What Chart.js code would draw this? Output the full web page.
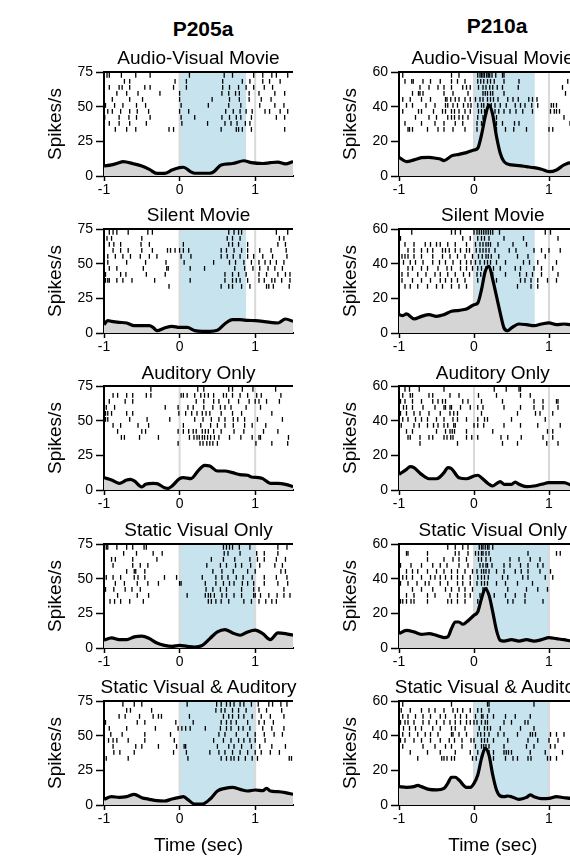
<!DOCTYPE html>
<html><head><meta charset="utf-8">
<script src="https://cdn.jsdelivr.net/npm/chart.js@4/dist/chart.umd.min.js"></script>
<style>
html,body{margin:0;padding:0;width:570px;height:858px;overflow:hidden;background:#fff;}
body{position:relative;font-family:"Liberation Sans",Arial,Helvetica,sans-serif;color:#000;}
canvas{position:absolute;}
.ttl{position:absolute;font-size:19px;line-height:19px;white-space:nowrap;transform:translateX(-50%);}
.hdr{position:absolute;font-size:21px;line-height:21px;font-weight:bold;white-space:nowrap;transform:translateX(-50%);}
</style></head><body>
<script>
// ---------- labels ----------
const units = ['P205a', 'P210a'];
const conditions = ['Audio-Visual Movie', 'Silent Movie', 'Auditory Only', 'Static Visual Only', 'Static Visual & Auditory'];
const xTickValues = [-1, 0, 1];
const yTicksP205 = [0, 25, 50, 75];
const yTicksP210 = [0, 20, 40, 60];
const markerTimes = [0, 1];
const stimEndP205 = [0.88, 0.88, null, 1.0, 1.0];
const stimEndP210 = [0.81, 0.81, null, 1.0, 1.0];

// ---------- P205a PSTH ----------
const timeP205Av = [-1,-0.9,-0.8,-0.75,-0.6,-0.5,-0.4,-0.3,-0.2,-0.1,0,0.05,0.15,0.2,0.3,0.4,0.45,0.55,0.7,0.85,0.95,1.1,1.2,1.3,1.4,1.5];
const rateP205Av = [7.2,8,9.6,10.4,8.7,7.2,4.8,1.9,1.9,4.3,6,6.3,3,2,2,2,3,8,9,11,9.6,9,9.6,10,8.7,10.4];
const timeP205Sm = [-1,-0.95,-0.9,-0.8,-0.7,-0.6,-0.5,-0.4,-0.35,-0.3,-0.2,-0.1,0,0.1,0.2,0.3,0.4,0.5,0.6,0.7,0.8,0.9,1.0,1.1,1.2,1.3,1.4,1.5];
const rateP205Sm = [6,8.9,8.4,7.7,7.2,5.3,5.3,5.3,4,1.7,3.6,4.8,4,4,1.7,1.2,1.2,1.9,6.7,9.6,9.6,9.1,8.9,8.4,7.7,7.2,10.1,8.4];
const timeP205Au = [-1,-0.9,-0.8,-0.7,-0.65,-0.6,-0.5,-0.45,-0.35,-0.3,-0.2,-0.15,-0.1,0,0.05,0.15,0.25,0.33,0.4,0.5,0.6,0.7,0.8,0.9,0.95,1.05,1.1,1.2,1.3,1.4,1.5];
const rateP205Au = [8.9,7.2,4.8,7.2,7.7,6.5,2.2,4.1,4.8,4.6,1.7,1.2,2.9,8.2,8.9,8.2,14.2,17.8,17.3,13.7,13.7,12.5,11.1,10.6,9.4,8.9,8.2,4.8,4.8,4.1,2.4];
const timeP205Sv = [-1,-0.9,-0.8,-0.7,-0.6,-0.5,-0.4,-0.3,-0.2,-0.1,0,0.1,0.2,0.3,0.4,0.5,0.6,0.7,0.8,0.9,1.0,1.1,1.2,1.3,1.4,1.5];
const rateP205Sv = [5.6,7.3,6.1,6.1,8,8.5,6.8,3.6,1.9,1.2,1.9,1.2,0.7,1.9,6.8,11.6,13.3,10.9,9.2,11.6,12.9,10.4,6.1,10.9,10.4,9.2];
const timeP205Sva = [-1,-0.9,-0.8,-0.7,-0.6,-0.5,-0.4,-0.3,-0.2,-0.1,0,0.05,0.1,0.2,0.3,0.4,0.5,0.6,0.7,0.8,0.9,1.0,1.1,1.15,1.2,1.3,1.4,1.5];
const rateP205Sva = [4.1,6,5.5,6,7.7,5.3,4.1,3.1,2.9,4.3,5.5,6,4.3,0.7,0.7,4.1,10.1,12,12.7,11.3,10.1,10.8,10.3,12,10.1,9.6,8.9,7.7];

// ---------- P210a PSTH ----------
const timeP210Av = [-1,-0.9,-0.8,-0.7,-0.6,-0.5,-0.45,-0.4,-0.3,-0.2,-0.1,0,0.05,0.1,0.15,0.2,0.25,0.3,0.35,0.4,0.5,0.6,0.7,0.8,0.9,1.0,1.1,1.2,1.3,1.4,1.5];
const rateP210Av = [10.8,8.3,9.3,10.6,10.8,10.2,9.8,8.9,11.6,12.5,13.5,15,16,23.7,34.4,41.1,35.3,22.8,13.1,8.3,6.4,6,5.4,4.8,3.9,2.5,3.5,6.4,7.7,7.3,7.7];
const timeP210Sm = [-1,-0.95,-0.9,-0.8,-0.7,-0.6,-0.5,-0.4,-0.3,-0.2,-0.1,0,0.05,0.1,0.15,0.2,0.25,0.3,0.35,0.4,0.45,0.5,0.6,0.7,0.8,0.9,1.0,1.1,1.2,1.3,1.5];
const rateP210Sm = [10.6,10,11,8.1,9.6,10.6,9.6,10.6,12.5,13.1,13.8,16.3,17.3,25,35.6,38.5,30.8,21.2,11.5,2.9,1.3,2.9,5.2,4.8,4.2,5.2,5.8,4.8,5.2,4.8,4.8];
const timeP210Au = [-1,-0.9,-0.85,-0.8,-0.7,-0.6,-0.5,-0.4,-0.35,-0.3,-0.2,-0.1,0,0.05,0.1,0.2,0.25,0.3,0.35,0.4,0.5,0.55,0.6,0.7,0.8,0.9,1.0,1.1,1.2,1.3,1.4,1.5];
const rateP210Au = [9,11.9,13.5,12.9,9,6.5,6.5,10,12.9,12.3,7.1,6.5,8.1,8.5,7.1,3.3,2.3,3.7,4.8,3.3,3.3,4.6,3.3,1.9,2.3,3.3,4.2,4.2,4.2,2.7,1.7,1.3];
const timeP210Sv = [-1,-0.9,-0.8,-0.7,-0.6,-0.5,-0.4,-0.35,-0.3,-0.25,-0.2,-0.15,-0.1,0,0.05,0.1,0.15,0.2,0.25,0.3,0.35,0.4,0.5,0.6,0.7,0.8,0.9,1.0,1.1,1.2,1.3,1.4,1.5];
const rateP210Sv = [8.3,10.2,9.3,7.9,8.3,7.3,6,6.4,11.2,15,15,13.7,15,18.9,20.8,28.5,34.3,30.5,20.8,10.2,4.4,4,4.8,4,4.8,4,4.8,6,5.4,4.8,4,4.4,4.8];
const timeP210Sva = [-1,-0.9,-0.8,-0.75,-0.7,-0.6,-0.5,-0.4,-0.35,-0.3,-0.25,-0.2,-0.1,-0.05,0,0.05,0.1,0.15,0.2,0.25,0.3,0.35,0.4,0.45,0.5,0.6,0.7,0.75,0.8,0.9,1.0,1.1,1.2,1.3,1.5];
const rateP210Sva = [10.6,10.2,10.6,11.3,10.6,9,8.7,9.6,12.5,16,16,14.4,10.2,10.2,12.5,17.3,26.9,32.7,28.8,17.3,8.7,5.2,4.8,5.2,4.8,3.3,4.4,5.8,4.8,3.7,3.8,4.8,4.2,3.8,3.8];

// ---------- rasters: spike times (s), one list per trial, top trial first ----------
const rasterP205Av = [
 [-0.96,-0.93,-0.77,-0.58,-0.39,0.13,0.59,0.70,0.98,1.10,1.22,1.28,1.43],
 [-0.73,-0.66,-0.06,0.09,0.57,0.83,0.93,1.10,1.19,1.33],
 [-0.93,-0.80,-0.76,-0.66,-0.46,-0.39,-0.08,0.09,0.57,0.66,0.78,0.88,0.98,1.12,1.23],
 [-0.83,-0.70,-0.55,-0.26,0.0,0.56,0.65,0.74,0.79,0.92,1.05,1.26,1.39],
 [-0.89,-0.66,-0.49,0.0,0.43,0.66,0.79,0.92,1.08,1.21],
 [-0.98,-0.86,-0.75,-0.57,-0.45,0.02,0.38,0.65,0.81,1.06,1.26,1.38],
 [-0.95,-0.89,-0.78,-0.66,-0.56,-0.41,0.0,0.12,0.61,0.71,0.80,0.88,0.96,1.13,1.19,1.33,1.43],
 [-0.99,-0.80,-0.67,-0.57,-0.39,0.02,0.20,0.56,0.66,0.75,0.81,0.95,1.28,1.39],
 [-0.93,-0.80,-0.66,-0.44,0.03,0.37,0.60,0.68,0.76,0.87,0.93],
 [-0.85,-0.70,-0.58,-0.14,-0.08,0.55,0.75,0.78,0.83,0.95,1.39]
];
const rasterP205Sm = [
 [-0.93,-0.88,-0.83,-0.68,-0.42,-0.36,0.65,0.72,0.78,0.82,1.28,1.43],
 [-0.96,-0.90,-0.50,0.63,0.70,0.80,1.32,1.38],
 [-0.93,-0.87,-0.78,-0.51,-0.40,0.05,0.65,0.70,0.78,0.90,1.30,1.40],
 [-0.88,-0.78,-0.68,-0.50,-0.36,-0.16,-0.12,-0.06,0.00,0.05,0.12,0.55,0.62,0.72,0.82,0.90,1.06,1.21,1.41],
 [-0.95,-0.85,-0.75,-0.65,-0.52,-0.40,-0.30,0.02,0.15,0.55,0.63,0.71,0.80,0.90,0.98,1.10,1.23,1.42],
 [-0.95,-0.70,-0.45,-0.18,0.06,0.45,0.66,0.74,0.85,0.95,1.05,1.13,1.20,1.28,1.38],
 [-0.93,-0.83,-0.48,-0.17,-0.15,0.14,0.33,0.73,0.86,0.97,1.06,1.17,1.26,1.36],
 [-0.98,-0.78,-0.71,-0.44,-0.19,0.60,0.70,0.78,0.88,1.05,1.15,1.30,1.40,1.46],
 [-0.98,-0.95,-0.93,-0.83,-0.75,-0.63,-0.33,0.14,0.60,0.70,0.75,0.80,0.90,1.05,1.12,1.22,1.26,1.35,1.46],
 [-0.14,0.55,0.65,0.70,0.82,0.93,1.15,1.18,1.24,1.45]
];
const rasterP205Au = [
 [-0.38,0.24,0.32,0.65,0.70,0.83,0.97,1.27],
 [-0.88,-0.82,-0.70,-0.62,-0.44,-0.38,0.02,0.05,0.10,0.20,0.28,0.33,0.38,0.45,0.58,0.62,0.70,0.80,0.90,1.02,1.08,1.34],
 [-0.93,-0.72,-0.62,0.22,0.32,0.45,0.52,0.65,0.78,0.92,1.00,1.05,1.15,1.32],
 [-0.97,-0.86,-0.19,-0.02,0.11,0.18,0.32,0.44,0.54,0.60,0.68,0.88,1.07],
 [-0.98,-0.95,-0.90,-0.70,-0.62,-0.01,0.08,0.16,0.23,0.30,0.35,0.40,0.55,0.70,0.82,1.22],
 [-0.98,-0.95,-0.66,-0.43,-0.13,0.20,0.31,0.42,0.52,0.60,0.71,0.77,0.86,1.03,1.36],
 [-0.88,-0.78,-0.55,-0.41,0.05,0.28,0.41,0.50,0.60,0.71,0.86,0.96,1.14],
 [-0.82,-0.50,-0.45,-0.02,0.05,0.12,0.18,0.22,0.30,0.34,0.38,0.45,0.55,0.72,0.85,1.11,1.30],
 [-0.77,-0.73,-0.53,-0.28,0.13,0.19,0.23,0.26,0.30,0.33,0.37,0.41,0.46,0.52,0.66,0.81,0.96,1.05,1.07,1.44],
 [-0.02,0.27,0.31,0.36,0.40,0.44,0.50,1.01,1.22,1.43]
];
const rasterP205Sv = [
 [-0.97,-0.95,-0.83,-0.70,-0.62,-0.47,-0.44,0.58,0.62,0.66,0.70,0.79,0.93,1.30,1.42],
 [-0.74,-0.57,-0.35,-0.23,0.59,0.64,0.80,1.02,1.12,1.30],
 [-0.90,-0.85,-0.62,-0.30,0.42,0.58,0.73,0.93,1.03,1.12,1.28,1.40],
 [-0.88,-0.62,-0.52,-0.42,0.36,0.54,0.62,0.74,0.82,0.94,1.06,1.26,1.36],
 [-0.70,-0.60,-0.58,-0.46,0.44,0.56,0.71,0.90,1.00,1.34,1.40],
 [-0.97,-0.88,-0.78,-0.60,-0.55,-0.46,-0.20,-0.04,0.30,0.48,0.56,0.64,0.75,0.84,0.96,1.12,1.28,1.42],
 [-0.85,-0.73,-0.56,-0.42,-0.28,0.00,0.02,0.34,0.48,0.58,0.66,0.72,0.83,0.90,0.98,1.12,1.30,1.43],
 [-0.98,-0.87,-0.72,-0.63,-0.52,0.35,0.44,0.54,0.62,0.82,0.98,1.05,1.38],
 [-0.82,-0.56,-0.41,0.10,0.34,0.38,0.41,0.46,0.56,0.62,0.72,0.82,0.98,1.00,1.07,1.18,1.29,1.38,1.46],
 [-0.92,-0.86,-0.78,-0.66,-0.48,0.38,0.42,0.48,0.55,0.65,0.85,0.95,1.05,1.14,1.22,1.28]
];
const rasterP205Sva = [
 [-0.75,-0.60,-0.50,0.10,0.49,0.55,0.62,0.67,0.72,0.80,0.85,0.95,1.04,1.18,1.23,1.34,1.42],
 [-0.70,-0.65,-0.37,0.48,0.55,0.60,0.70,0.78,0.88,1.05,1.15,1.35],
 [-0.80,-0.72,-0.53,-0.35,-0.28,-0.24,0.13,0.58,0.65,0.70,0.78,0.85,0.96,1.08,1.20,1.38],
 [-0.98,-0.56,-0.46,-0.05,0.18,0.55,0.62,0.68,0.75,0.90,1.05,1.12,1.24],
 [-0.93,-0.70,-0.32,-0.02,0.03,0.08,0.14,0.34,0.54,0.62,0.68,0.78,0.84,0.93,1.10,1.22,1.38],
 [-0.91,-0.76,-0.46,-0.12,0.52,0.60,0.75,0.90,1.00,1.12,1.25,1.36],
 [-0.94,-0.88,-0.83,-0.68,-0.46,-0.07,0.45,0.58,0.68,0.78,0.85,0.93,1.00,1.13],
 [-0.88,-0.58,-0.50,-0.28,-0.04,0.06,0.08,0.50,0.65,0.72,0.82,0.95,1.06,1.22,1.40],
 [-0.87,-0.79,-0.60,-0.08,0.09,0.40,0.52,0.60,0.70,0.80,0.90,1.00,1.08,1.20,1.32],
 [-0.97,-0.68,0.11,0.55,0.62,0.68,0.72,0.78,0.87,0.96,1.03,1.45,1.48]
];
const rasterP210Av = [
 [-0.95,-0.30,-0.20,0.05,0.08,0.10,0.12,0.14,0.17,0.19,0.21,0.24,0.29,0.38,0.40],
 [-0.92,-0.83,-0.81,-0.68,-0.58,-0.45,-0.30,-0.22,-0.12,0.05,0.09,0.13,0.18,0.22,0.27,0.40,0.60,1.25],
 [-0.72,-0.60,-0.48,-0.40,-0.30,-0.15,-0.10,-0.05,0.06,0.12,0.16,0.21,0.25,0.31,0.38,0.59,1.18,1.35],
 [-0.82,-0.74,-0.72,-0.68,-0.40,-0.28,-0.08,0.12,0.15,0.18,0.22,0.25,0.40,1.22],
 [-0.95,-0.85,-0.70,-0.58,-0.38,-0.36,-0.31,-0.25,-0.20,-0.12,-0.05,0.02,0.08,0.12,0.18,0.22,0.26,0.32,0.45,0.52,0.59,0.73,0.78,0.84,1.30],
 [-0.90,-0.82,-0.64,-0.52,-0.38,-0.35,-0.28,-0.22,-0.14,-0.08,-0.04,0.05,0.10,0.13,0.18,0.23,0.28,0.35,0.43,0.55,0.62,0.68,0.77,0.85,1.03,1.06,1.10],
 [-0.95,-0.74,-0.70,-0.54,-0.42,-0.38,-0.30,-0.26,-0.20,-0.12,-0.05,0.06,0.10,0.14,0.18,0.21,0.28,0.33,0.40,0.48,0.56,0.65,0.78,1.02,1.07,1.10,1.14],
 [-0.78,-0.60,-0.50,-0.35,-0.30,-0.26,-0.20,-0.15,-0.08,0.05,0.12,0.20,0.24,0.30,1.20],
 [-0.92,-0.70,-0.52,-0.40,-0.25,-0.15,0.04,0.10,0.15,0.20,0.25,0.30,0.38,0.54,0.60,1.28],
 [-0.88,-0.86,-0.82,-0.62,-0.48,-0.40,-0.28,-0.12,0.04,0.12,0.16,0.20,0.25,0.30,0.42,0.53,0.70,1.00,1.05]
];
const rasterP210Sm = [
 [-0.83,-0.30,-0.25,-0.18,0.00,0.04,0.07,0.10,0.13,0.16,0.19,0.22,0.25,0.34,0.95,1.02],
 [-0.98,-0.15,-0.05,0.05,0.10,0.14,0.20,0.40,0.66,1.12],
 [-0.92,-0.80,-0.65,-0.58,-0.50,-0.45,-0.35,-0.25,-0.10,0.02,0.08,0.12,0.16,0.19,0.22,0.32,0.52,0.70],
 [-0.88,-0.80,-0.70,-0.62,-0.55,-0.42,-0.38,-0.33,-0.25,-0.18,-0.10,-0.06,0.03,0.08,0.12,0.16,0.20,0.28,0.47,0.56,0.80,0.90,1.00,1.15],
 [-0.96,-0.92,-0.88,-0.80,-0.70,-0.55,-0.42,-0.32,-0.22,-0.12,-0.02,0.06,0.11,0.16,0.19,0.23,0.33,0.58,0.72,0.95],
 [-0.94,-0.85,-0.78,-0.68,-0.55,-0.46,-0.38,-0.28,-0.18,-0.10,-0.04,0.02,0.08,0.14,0.18,0.22,0.30,0.42,0.66,0.74,0.85,1.10],
 [-0.88,-0.82,-0.70,-0.62,-0.48,-0.36,-0.30,-0.18,-0.10,-0.02,0.05,0.10,0.16,0.21,0.26,0.35,0.55,0.62,0.80,0.90,1.05],
 [-0.96,-0.88,-0.75,-0.64,-0.52,-0.45,-0.35,-0.25,-0.14,-0.06,0.04,0.09,0.14,0.19,0.25,0.42,0.61,0.70,0.78,0.90,1.12],
 [-0.96,-0.82,-0.70,-0.58,-0.45,-0.38,-0.30,-0.22,-0.12,0.05,0.15,0.20,0.25,0.30,0.62,0.68,0.76,0.85,0.98,1.10],
 [-0.92,-0.85,-0.75,-0.62,-0.50,-0.42,-0.30,-0.20,-0.10,0.12,0.20,0.22,0.58,0.76,0.85]
];
const rasterP210Au = [
 [-0.92,-0.86,-0.73,-0.40,0.27,0.43,0.60,0.62],
 [-0.95,-0.85,-0.82,-0.60,-0.55,-0.32,-0.20,0.06,0.30,0.62,0.75],
 [-0.98,-0.92,-0.82,-0.70,-0.55,-0.48,-0.42,-0.38,-0.15,-0.08,0.10,0.38,0.80,0.92,1.10,1.12],
 [-0.94,-0.90,-0.82,-0.68,-0.52,-0.40,-0.38,-0.32,-0.30,-0.18,-0.05,0.05,0.12,0.40,0.62,0.80,0.92,1.12],
 [-0.98,-0.90,-0.80,-0.72,-0.60,-0.45,-0.32,-0.27,-0.22,0.10,0.58,0.82,0.88,1.05],
 [-0.95,-0.88,-0.78,-0.70,-0.62,-0.50,-0.40,-0.28,-0.22,-0.10,0.05,0.14,0.18,0.50,0.95],
 [-0.97,-0.80,-0.73,-0.62,-0.54,-0.48,-0.40,-0.35,-0.27,-0.25,0.00,0.05,0.13,0.40,0.62,0.85,1.15],
 [-0.90,-0.82,-0.50,-0.38,-0.32,-0.29,-0.26,-0.10,0.25,0.98,1.05],
 [-0.88,-0.85,-0.72,-0.60,-0.55,-0.40,-0.36,-0.31,-0.28,-0.10,-0.03,0.05,0.36,0.45,0.63,0.92,1.05],
 [-0.72,-0.22,0.38,0.58,0.97,1.12]
];
const rasterP210Sv = [
 [-0.35,-0.25,-0.15,-0.08,0.07,0.10,0.12,0.15,0.18,0.20,0.25],
 [-0.90,-0.88,-0.62,-0.25,-0.20,-0.08,0.02,0.06,0.10,0.12,0.16,0.20,0.72,1.10,1.15],
 [-0.62,-0.40,-0.28,-0.20,-0.10,0.06,0.10,0.16,0.22,0.48,0.60,0.75,0.88],
 [-0.98,-0.84,-0.70,-0.55,-0.45,-0.36,-0.20,-0.08,0.08,0.12,0.16,0.18,0.24,0.40,0.48,0.62,0.72,0.85,0.92],
 [-0.90,-0.82,-0.75,-0.62,-0.50,-0.40,-0.30,-0.22,-0.12,-0.02,0.04,0.10,0.13,0.16,0.20,0.30,0.40,0.55,0.63,0.72,0.88,1.02],
 [-0.95,-0.90,-0.82,-0.70,-0.58,-0.52,-0.45,-0.38,-0.30,-0.22,-0.15,-0.05,0.05,0.10,0.14,0.19,0.38,0.45,0.65,0.72,0.95,1.05],
 [-0.98,-0.88,-0.76,-0.65,-0.60,-0.45,-0.35,-0.22,-0.15,-0.05,0.04,0.10,0.14,0.18,0.30,0.42,0.58,0.78],
 [-0.82,-0.70,-0.55,-0.38,-0.30,-0.20,-0.12,-0.02,0.12,0.17,0.45,0.70,0.85,0.98],
 [-0.90,-0.80,-0.62,-0.52,-0.32,-0.22,-0.12,-0.05,0.08,0.20,0.27,0.42,0.55,0.68],
 [-0.98,-0.95,-0.90,-0.84,-0.80,-0.62,-0.35,-0.30,-0.22,-0.12,0.05,0.12,0.18,0.45,0.52,0.68,0.92]
];
const rasterP210Sva = [
 [-0.95,-0.30,0.18,0.20,0.80],
 [-0.97,-0.85,-0.70,-0.60,-0.52,-0.40,-0.28,-0.22,-0.15,-0.05,0.05,0.10,0.20],
 [-0.95,-0.88,-0.78,-0.68,-0.58,-0.45,-0.38,-0.25,-0.18,-0.10,0.02,0.10,0.12,0.18,0.26,0.42,0.55,0.75],
 [-0.98,-0.92,-0.88,-0.80,-0.68,-0.60,-0.50,-0.40,-0.32,-0.25,-0.18,-0.10,-0.05,0.00,0.04,0.10,0.15,0.18,0.40,0.50,0.68,0.72],
 [-0.94,-0.86,-0.78,-0.70,-0.55,-0.45,-0.30,-0.25,-0.12,0.07,0.14,0.18,0.22,0.35,0.62,0.80],
 [-0.95,-0.86,-0.75,-0.65,-0.58,-0.48,-0.30,-0.28,-0.20,-0.10,0.05,0.09,0.14,0.20,0.32,0.40,0.58,0.75,0.78,0.82,1.02,1.10,1.20],
 [-0.98,-0.92,-0.80,-0.70,-0.58,-0.45,-0.33,-0.26,-0.16,-0.04,0.00,0.10,0.14,0.18,0.26,0.45,0.72,0.85,1.00,1.12],
 [-0.95,-0.68,-0.52,-0.38,-0.30,-0.16,0.02,0.10,0.13,0.16,0.20,0.40,0.70,0.80,1.02,1.08],
 [-0.85,-0.62,-0.45,-0.25,-0.05,0.05,0.12,0.20,0.26,0.40,0.43,0.46,0.50,0.75,0.95,1.18],
 [-0.75,-0.43,-0.40,-0.36,-0.30,-0.26,-0.02,0.03,0.10,0.14,0.20,0.26,0.42,0.52,0.58,0.72,0.76,0.98,1.02,1.10]
];

// ---------- assemble ----------
const columns = [
  { unit: units[0], yMax: 75, yTicks: yTicksP205, stimEnd: stimEndP205,
    panels: [[timeP205Av, rateP205Av, rasterP205Av], [timeP205Sm, rateP205Sm, rasterP205Sm],
             [timeP205Au, rateP205Au, rasterP205Au], [timeP205Sv, rateP205Sv, rasterP205Sv],
             [timeP205Sva, rateP205Sva, rasterP205Sva]] },
  { unit: units[1], yMax: 60, yTicks: yTicksP210, stimEnd: stimEndP210,
    panels: [[timeP210Av, rateP210Av, rasterP210Av], [timeP210Sm, rateP210Sm, rasterP210Sm],
             [timeP210Au, rateP210Au, rasterP210Au], [timeP210Sv, rateP210Sv, rasterP210Sv],
             [timeP210Sva, rateP210Sva, rasterP210Sva]] }
];

// layout (pixels)
const FONT = '"Liberation Sans", Arial, Helvetica, sans-serif';
const colGeom = [
  { canvasLeft: 40, plotLeft: 104, padRight: 7, hdrX: 203, hdrY: 18 },
  { canvasLeft: 335, plotLeft: 399, padRight: 8.5, hdrX: 497, hdrY: 14.5 }
];
const CANVAS_W = 260, TOP_PAD = 30, PLOT_H = 104;
const BLUE = '#c7e3ee', MARK = '#d9d9d9';

const stimPlugin = {
  id: 'stim',
  beforeDatasetsDraw(chart, args, opts) {
    const { ctx, chartArea: a, scales: { x } } = chart;
    ctx.save();
    if (opts.end != null) {
      const x0 = x.getPixelForValue(0), x1 = x.getPixelForValue(opts.end);
      ctx.fillStyle = BLUE;
      ctx.fillRect(x0, a.top, x1 - x0, a.bottom - a.top);
    }
    ctx.strokeStyle = MARK; ctx.lineWidth = 2;
    markerTimes.forEach(v => {
      const px = x.getPixelForValue(v);
      ctx.beginPath(); ctx.moveTo(px, a.top); ctx.lineTo(px, a.bottom); ctx.stroke();
    });
    ctx.restore();
  },
  afterDraw(chart) {
    const { ctx, chartArea: a } = chart;
    ctx.save(); ctx.strokeStyle = '#000'; ctx.lineWidth = 2;
    ctx.beginPath(); ctx.moveTo(a.left - 1, a.top); ctx.lineTo(a.right, a.top); ctx.stroke();
    ctx.restore();
  }
};

function addDiv(cls, text, left, top) {
  const d = document.createElement('div');
  d.className = cls; d.textContent = text;
  d.style.left = left + 'px'; d.style.top = top + 'px';
  document.body.appendChild(d);
}

columns.forEach((col, ci) => {
  const g = colGeom[ci];
  addDiv('hdr', col.unit, g.hdrX, g.hdrY);
  col.panels.forEach((p, ri) => {
    const [times, rates, raster] = p;
    const plotTop = 72 + 157.2 * ri;
    const last = ri === col.panels.length - 1;
    const xH = last ? 52 : 26;
    const cv = document.createElement('canvas');
    const H = TOP_PAD + PLOT_H + xH;
    cv.width = CANVAS_W; cv.height = H;
    cv.style.left = g.canvasLeft + 'px'; cv.style.top = (plotTop - TOP_PAD) + 'px';
    cv.style.width = CANVAS_W + 'px'; cv.style.height = H + 'px';
    document.body.appendChild(cv);

    const plotRight = g.canvasLeft + CANVAS_W - g.padRight;
    addDiv('ttl', conditions[ri], (g.plotLeft + plotRight) / 2, plotTop - 23.8);

    const psth = times.map((t, i) => ({ x: t, y: rates[i] }));
    const spikes = [];
    raster.forEach((row, k) => {
      const yRow = col.yMax * (0.968 - 0.0578 * k);
      row.forEach(t => spikes.push({ x: t, y: yRow }));
    });

    new Chart(cv, {
      type: 'line',
      data: {
        datasets: [
          { type: 'line', data: psth, borderColor: '#000', borderWidth: 3.2, pointRadius: 0,
            fill: 'origin', backgroundColor: '#d5d5d5', cubicInterpolationMode: 'monotone' },
          { type: 'scatter', data: spikes, showLine: false, pointStyle: 'line', rotation: 90,
            pointRadius: 2.4, pointHoverRadius: 2.4, borderColor: '#000', borderWidth: 1.3 }
        ]
      },
      options: {
        responsive: false, animation: false, devicePixelRatio: 1,
        layout: { padding: { top: TOP_PAD, right: g.padRight, left: 0, bottom: 0 } },
        plugins: { legend: { display: false }, tooltip: { enabled: false }, title: { display: false },
                   stim: { end: col.stimEnd[ri] } },
        scales: {
          x: {
            type: 'linear', min: -1, max: 1.5,
            afterBuildTicks: s => { s.ticks = xTickValues.map(v => ({ value: v })); },
            afterFit: s => { s.height = xH; },
            border: { color: '#000', width: 2 },
            grid: { drawOnChartArea: false, drawTicks: true, tickLength: 5, tickColor: '#000', tickWidth: 1.5 },
            ticks: { color: '#000', font: { family: FONT, size: 14 }, padding: 1, maxRotation: 0 },
            title: { display: last, text: 'Time (sec)', color: '#000', font: { family: FONT, size: 19 },
                     padding: { top: 0, bottom: 0 } }
          },
          y: {
            min: 0, max: col.yMax,
            afterBuildTicks: s => { s.ticks = col.yTicks.map(v => ({ value: v })); },
            afterFit: s => { s.width = g.plotLeft - g.canvasLeft; },
            border: { color: '#000', width: 2 },
            grid: { drawOnChartArea: false, drawTicks: true, tickLength: 8, tickColor: '#000', tickWidth: 1.5 },
            ticks: { color: '#000', font: { family: FONT, size: 14 }, padding: 3 },
            title: { display: true, text: 'Spikes/s', color: '#000', font: { family: FONT, size: 19 },
                     padding: { top: 4, bottom: 0 } }
          }
        }
      },
      plugins: [stimPlugin]
    });
  });
});
</script>
</body></html>
